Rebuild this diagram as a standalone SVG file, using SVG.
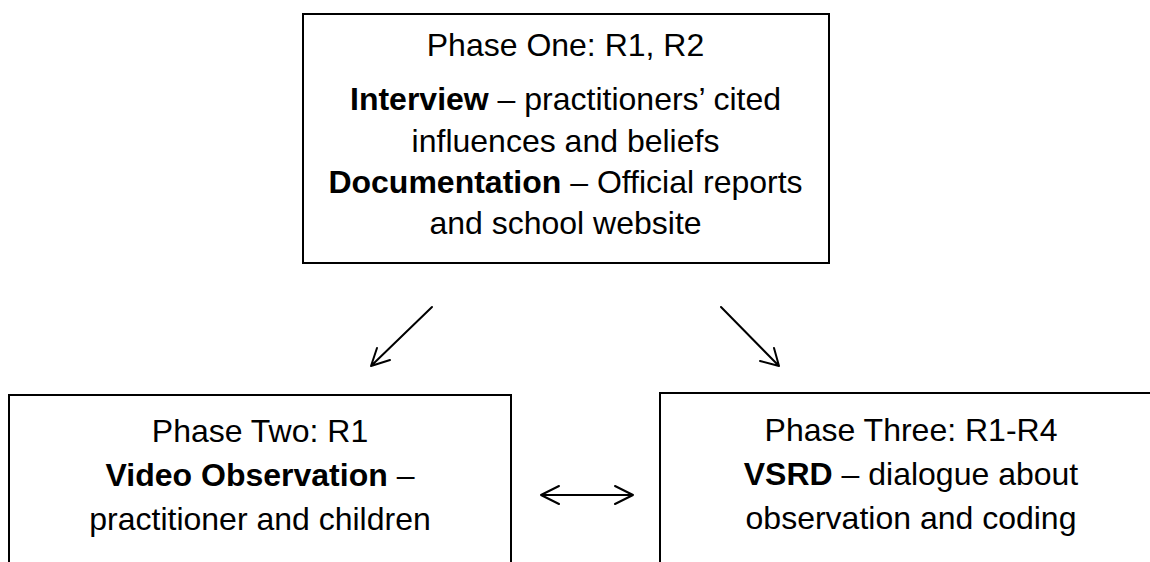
<svg xmlns="http://www.w3.org/2000/svg" width="1150" height="562" viewBox="0 0 1150 562">
<style>
.box{fill:#fff;stroke:#000;stroke-width:2}
.t{font-family:"Liberation Sans",Arial,sans-serif;font-size:32px;fill:#000;text-anchor:middle}
.b{font-weight:bold}
.c{fill:none;stroke:#000;stroke-width:2;stroke-linecap:round;stroke-linejoin:round}
</style>
<rect width="1150" height="562" fill="#fff"/>
<g id="phase-one">
<rect class="box" x="303" y="14" width="526" height="249"/>
<text class="t" x="565.5" y="56">Phase One: R1, R2</text>
<text class="t" x="565.5" y="110"><tspan class="b">Interview</tspan> – practitioners’ cited</text>
<text class="t" x="565.5" y="152">influences and beliefs</text>
<text class="t" x="565.5" y="193"><tspan class="b">Documentation</tspan> – Official reports</text>
<text class="t" x="565.5" y="234">and school website</text>
</g>
<g id="phase-two">
<rect class="box" x="9" y="395" width="502" height="180"/>
<text class="t" x="260" y="442">Phase Two: R1</text>
<text class="t" x="260" y="486"><tspan class="b">Video Observation</tspan> –</text>
<text class="t" x="260" y="530">practitioner and children</text>
</g>
<g id="phase-three">
<rect class="box" x="660" y="393" width="502" height="182"/>
<text class="t" x="911" y="441">Phase Three: R1-R4</text>
<text class="t" x="911" y="485"><tspan class="b">VSRD</tspan> – dialogue about</text>
<text class="t" x="911" y="529">observation and coding</text>
</g>
<g id="connectors">
<path class="c" d="M432,307 L371,366 M377,348 L371,366 L390,360"/>
<path class="c" d="M721,307 L779,366 M774,348 L779,366 L760,361"/>
<path class="c" d="M541,495 L633,495 M559,486 L541,495 L559,504 M615,486 L633,495 L615,504"/>
</g>
</svg>
